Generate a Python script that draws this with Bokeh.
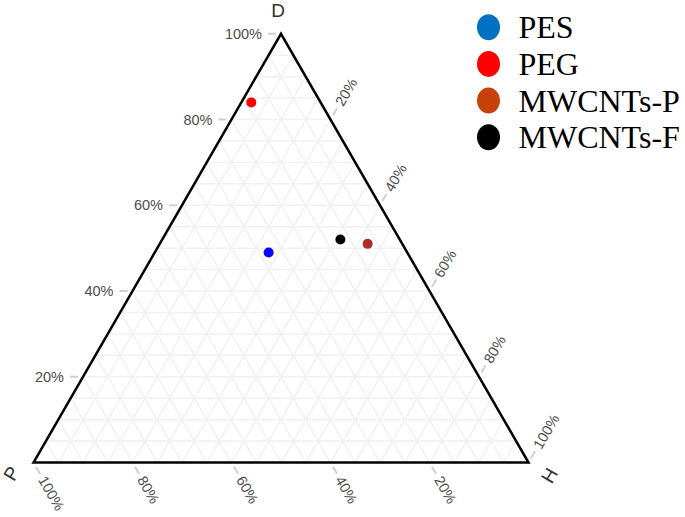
import math
from bokeh.plotting import figure
from bokeh.models import Range1d
from bokeh.embed import file_html
from bokeh.resources import INLINE
from bokeh.core.properties import value

# ---- data (fractions of P, H, D) ----
samples = ["PES", "PEG", "MWCNTs-P", "MWCNTs-F"]
P_vals = [0.28, 0.14, 0.07, 0.12]
H_vals = [0.23, 0.02, 0.42, 0.36]
D_vals = [0.49, 0.84, 0.51, 0.52]
point_colors = ["#0000ff", "#ff0000", "#b22a2a", "#000000"]
legend_colors = ["#0070c0", "#ff0000", "#c8400a", "#000000"]

tick_vals = [0.2, 0.4, 0.6, 0.8, 1.0]
tick_labels = ["20%", "40%", "60%", "80%", "100%"]
grid_vals = [0.05, 0.10, 0.15, 0.20, 0.25, 0.30, 0.35, 0.40, 0.45, 0.50,
             0.55, 0.60, 0.65, 0.70, 0.75, 0.80, 0.85, 0.90, 0.95]

S3 = math.sqrt(3) / 2
PX = 495.0            # screen pixels per unit of triangle base
OX, OY = 33.0, 462.0  # screen position of the P vertex


def tern(P, H, D):
    s = P + H + D
    return (H + D / 2) / s, (D * S3) / s


def scr(px, py):
    return (px - OX) / PX, (OY - py) / PX


W, H = 685, 517
x0, y1 = scr(0, 0)
x1, y0 = scr(W, H)
p = figure(width=W, height=H, output_backend="svg", toolbar_location=None,
           x_range=Range1d(x0, x1), y_range=Range1d(y0, y1),
           min_border=0, outline_line_color=None)
p.axis.visible = False
p.grid.visible = False
p.background_fill_color = "white"

# ---- grid lines ----
gxs, gys = [], []
for v in grid_vals:
    for a, b in [(tern(1 - v, 0, v), tern(0, 1 - v, v)),      # const D
                 (tern(0, v, 1 - v), tern(1 - v, v, 0)),      # const H
                 (tern(v, 0, 1 - v), tern(v, 1 - v, 0))]:     # const P
        gxs.append([a[0], b[0]])
        gys.append([a[1], b[1]])
p.multi_line(gxs, gys, line_color="#f1f1f1", line_width=1.5)

# ---- ticks and tick labels ----
lab_font = value("Liberation Sans")
d0, d1 = 5 / PX, 13 / PX
tick_col = "#d0d0d0"
lab_col = "#4d4d4d"
fs = "14.5px"
# D axis (left edge), direction left
dx, dy = [], []
for v in tick_vals:
    x, y = tern(1 - v, 0, v)
    dx.append(x); dy.append(y)
p.segment([x - d0 for x in dx], dy, [x - d1 for x in dx], dy, line_color=tick_col, line_width=2)
p.text(dx, dy, text=tick_labels, x_offset=-19, text_align="right", text_baseline="middle",
       text_font=lab_font, text_font_size=fs, text_color=lab_col)
# H axis (right edge), direction up-right
ux, uy = 0.5, S3
hx, hy = [], []
for v in tick_vals:
    x, y = tern(0, v, 1 - v)
    hx.append(x); hy.append(y)
p.segment([x + ux * d0 for x in hx], [y + uy * d0 for y in hy],
          [x + ux * d1 for x in hx], [y + uy * d1 for y in hy], line_color=tick_col, line_width=2)
p.text(hx, hy, text=tick_labels, x_offset=ux * 17, y_offset=-uy * 17, angle=math.pi / 3,
       text_align="left", text_baseline="middle",
       text_font=lab_font, text_font_size=fs, text_color=lab_col)
# P axis (bottom edge), direction down-right
bx, by = [], []
for v in tick_vals:
    x, y = tern(v, 1 - v, 0)
    bx.append(x); by.append(y)
p.segment([x + ux * d0 for x in bx], [y - uy * d0 for y in by],
          [x + ux * d1 for x in bx], [y - uy * d1 for y in by], line_color=tick_col, line_width=2)
p.text(bx, by, text=tick_labels, x_offset=ux * 17, y_offset=uy * 17, angle=-math.pi / 3,
       text_align="left", text_baseline="middle",
       text_font=lab_font, text_font_size=fs, text_color=lab_col)

# ---- triangle border ----
vx = [tern(1, 0, 0)[0], tern(0, 0, 1)[0], tern(0, 1, 0)[0]]
vy = [tern(1, 0, 0)[1], tern(0, 0, 1)[1], tern(0, 1, 0)[1]]
p.patch(vx, vy, fill_color=None, line_color="black", line_width=2.5, line_join="miter")

# ---- vertex titles ----
tx, ty = tern(0, 0, 1)
p.text([tx], [ty], text=["D"], x_offset=-3, y_offset=-23, text_align="center", text_baseline="middle",
       text_font=lab_font, text_font_size="19px", text_color="#333333")
lx, ly = tern(1, 0, 0)
p.text([lx], [ly], text=["P"], x_offset=-22, y_offset=11, angle=math.pi / 3, text_align="center",
       text_baseline="middle", text_font=lab_font, text_font_size="19px", text_color="#333333")
rx, ry = tern(0, 1, 0)
p.text([rx], [ry], text=["H"], x_offset=21, y_offset=13, angle=math.pi / 3, text_align="center",
       text_baseline="middle", text_font=lab_font, text_font_size="19px", text_color="#333333")

# ---- data points ----
px_, py_ = [], []
for a, b, c in zip(P_vals, H_vals, D_vals):
    x, y = tern(a, b, c)
    px_.append(x); py_.append(y)
p.scatter(px_, py_, size=10, fill_color=point_colors, line_color=None)

# ---- legend ----
lgx, lgy0, step = 488, 26.7, 36.7
ex, ey, tx2, ty2 = [], [], [], []
for i in range(len(samples)):
    a, b = scr(lgx, lgy0 + i * step)
    ex.append(a); ey.append(b)
    c, d = scr(518, lgy0 + i * step)
    tx2.append(c); ty2.append(d)
p.ellipse(ex, ey, width=23 / PX, height=26 / PX, fill_color=legend_colors, line_color=None)
p.text(tx2, ty2, text=samples, text_align="left", text_baseline="middle",
       text_font=value("Liberation Serif"), text_font_size="32px", text_color="black")

open("out.html", "w").write(file_html(p, INLINE))
